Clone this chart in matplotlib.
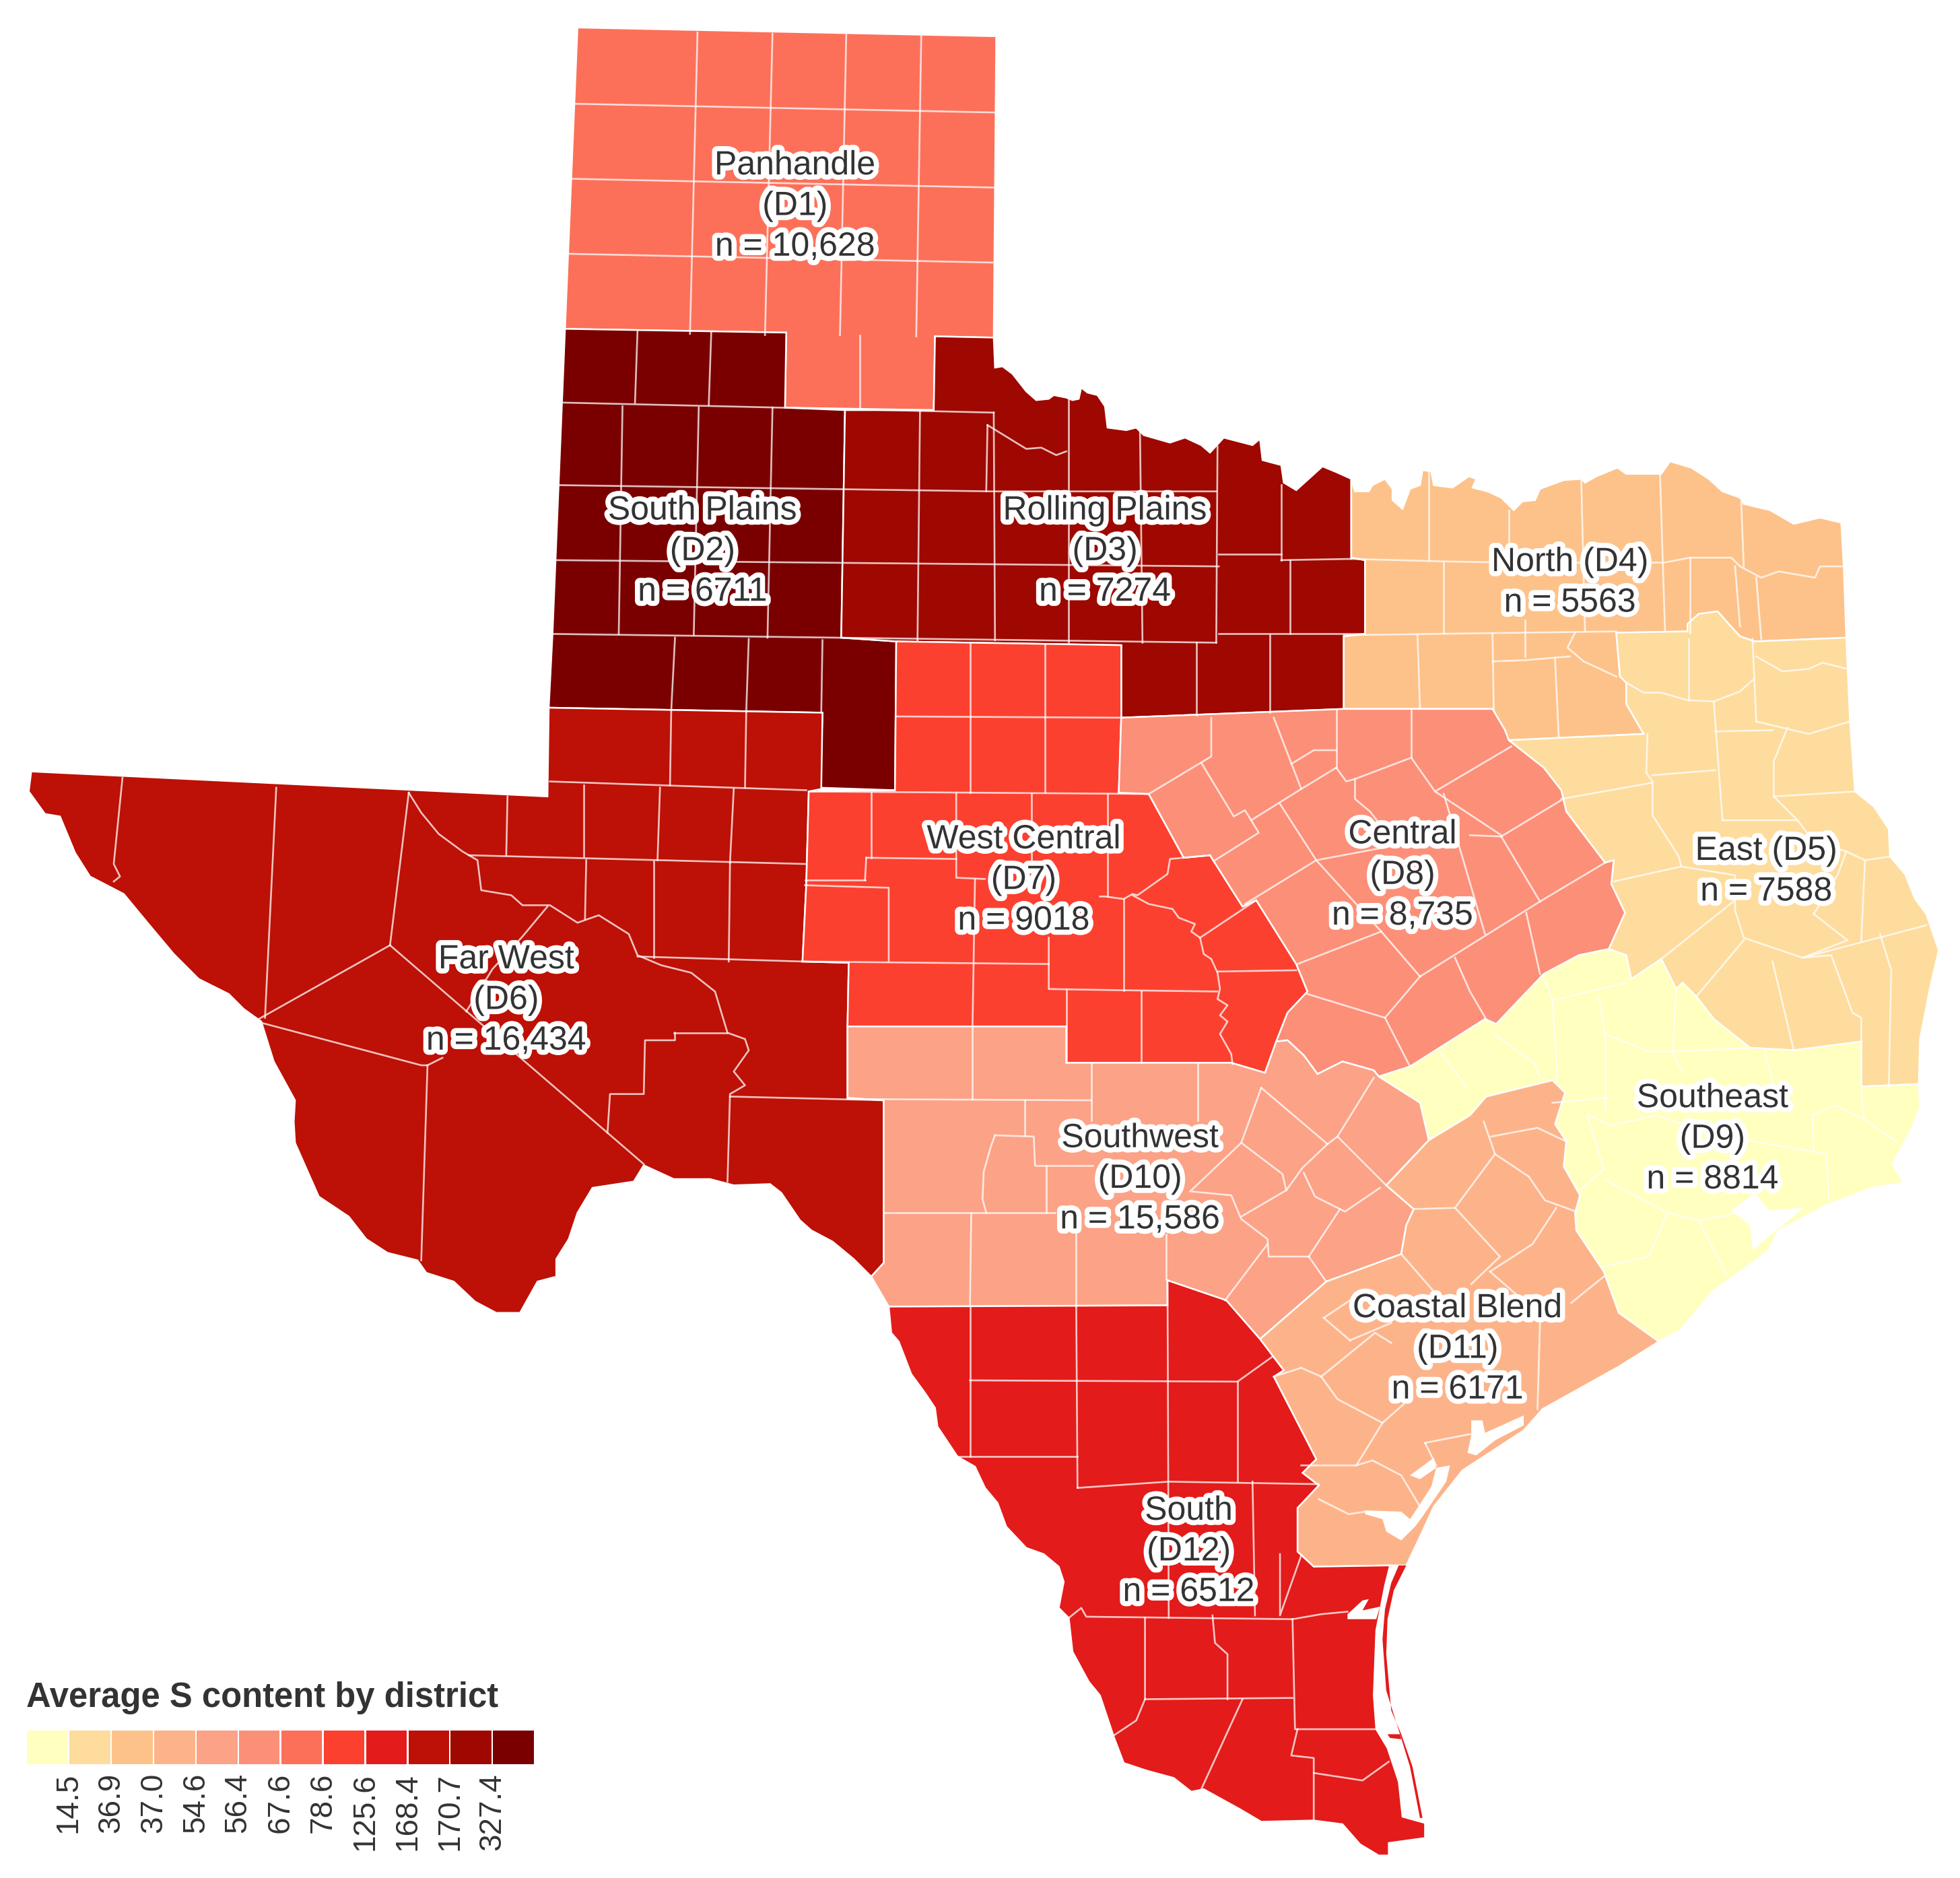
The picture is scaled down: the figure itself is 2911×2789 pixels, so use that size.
import matplotlib
matplotlib.use("Agg")
import matplotlib.pyplot as plt
import matplotlib.patheffects as pe
from matplotlib.patches import Polygon
from matplotlib.colors import ListedColormap

plt.rcParams['font.family'] = ['Liberation Sans', 'DejaVu Sans']

# ---- data -------------------------------------------------------------
legend_title = "Average S content by district"
legend_breaks = ["14.5", "36.9", "37.0", "54.6", "56.4", "67.6", "78.6", "125.6", "168.4", "170.7", "327.4"]
level_colors = ["#FFFFBF", "#FEDC9D", "#FDC28A", "#FDB389", "#FCA286", "#FC8F78",
                "#FC705A", "#FC402F", "#E31B1A", "#BD1006", "#9E0800", "#7A0000"]
district_ids = ["D1", "D2", "D3", "D4", "D5", "D6", "D7", "D8", "D9", "D10", "D11", "D12"]
district_level = [6, 11, 10, 2, 1, 9, 7, 5, 0, 4, 3, 8]
district_labels = [
    ["Panhandle", "(D1)", "n = 10,628"],
    ["South Plains", "(D2)", "n = 6711"],
    ["Rolling Plains", "(D3)", "n = 7274"],
    ["North (D4)", "n = 5563"],
    ["East (D5)", "n = 7588"],
    ["Far West", "(D6)", "n = 16,434"],
    ["West Central", "(D7)", "n = 9018"],
    ["Central", "(D8)", "n = 8,735"],
    ["Southeast", "(D9)", "n = 8814"],
    ["Southwest", "(D10)", "n = 15,586"],
    ["Coastal Blend", "(D11)", "n = 6171"],
    ["South", "(D12)", "n = 6512"],
]
label_x = [636, 562, 884, 1256, 1413, 405, 819, 1122, 1370, 912, 1166, 951]
label_y = [165, 441, 441, 466, 697, 800, 704, 700, 911, 943, 1079, 1241]

# ---- map geometry (shared borders, then district outlines) ---------------
red_river_d3 = [(796,294),(802,293),(810,299),(821,313),(829,320),(839,319),(843,316),(853,318),(858,320),(863,319),
    (865,310),(870,314),(878,316),(884,325),(886,342),(901,344),(909,342),(915,348),(936,354),(948,350),(961,356),
    (968,362),(979,350),(1002,356),(1008,351),(1010,368),(1025,372),(1027,386),(1037,392),(1058,373),(1070,378),(1081,383)]
red_river_d4 = [(1081,383),(1084,393),(1095,393),(1098,388),(1108,383),(1114,391),(1114,400),(1122,407),(1128,391),(1136,388),
    (1138,376),(1145,377),(1147,388),(1162,390),(1175,381),(1181,383),(1178,390),(1190,393),(1201,398),(1211,408),(1218,401),
    (1228,400),(1232,391),(1251,384),(1265,383),(1268,386),(1277,381),(1294,374),(1301,379),(1329,379),(1336,369),(1353,374),
    (1367,383),(1378,393),(1392,398),(1395,403),(1416,408),(1435,419),(1456,414),(1473,418),(1475,453),(1477,510)]
b_d4_d5 = [(1477,510),(1404,513),(1392,509),(1374,489),(1359,491),(1350,499),(1350,505),(1293,506),(1296,541),(1301,546),
    (1301,563),(1315,587),(1207,592)]
b_d5_d8 = [(1207,592),(1235,614),(1249,632),(1253,649),(1284,690),(1291,688),(1289,707),(1300,730),(1287,759)]
b_d5_d9 = [(1287,759),(1301,764),(1305,783),(1329,767),(1341,791),(1346,786),(1357,797),(1371,815),(1400,838),(1435,840),
    (1489,833),(1489,869),(1535,867)]
b_d8_d9 = [(1287,759),(1263,764),(1235,779),(1215,800),(1197,819),(1188,815),(1128,853),(1103,861)]
b_d8_d10 = [(1103,861),(1099,856),(1074,849),(1054,859),(1043,844),(1030,832),(1021,833)]
b_d7_d8 = [(897,574),(895,634),(919,635),(947,686),(968,684),(994,725),(1005,720),(1037,771),(1046,793),(1030,810),(1021,833),(1012,858)]
b_d10_d11 = [(1143,912),(1109,948),(1131,967),(1125,980),(1121,1003),(1061,1025),(1008,1071)]
rio_grande_d6 = [(697,1021),(683,1007),(666,993),(649,984),(640,976),(625,954),(616,947),(587,948),(568,943),(539,943),
    (515,932),(507,945),(474,950),(462,970),(455,991),(445,1007),(445,1021),(430,1025),(416,1050),(397,1050),(380,1041),
    (363,1025),(341,1018),(334,1008),(310,1002),(293,991),(279,973),(255,957),(236,914),(235,897),(236,880),(219,849),
    (209,817),(195,807),(183,795),(159,783),(139,763),(118,738),(99,715),(72,701),(60,682),(48,653),(36,651),(23,633),(25,617)]
coast_d9 = [(1535,867),(1536,886),(1529,903),(1514,931),(1523,946),(1497,950),(1461,964),(1423,984),(1414,1001),(1370,1033),
    (1344,1064),(1327,1073)]
d11_north = [(1143,912),(1176,892),(1189,877),(1242,864),(1252,874),(1244,899),(1253,913),(1251,933),(1264,956),(1260,970),
    (1261,984),(1283,1017),(1295,1050),(1327,1073)]
d11_south = [(1327,1073),(1295,1093),(1234,1127),(1219,1144),(1170,1176),(1147,1205),(1136,1229),(1125,1252),(1112,1252),
    (1051,1253),(1038,1241),(1038,1206),(1055,1188),(1042,1178),(1053,1167),(1019,1101),(1027,1096),(1008,1071)]
d12_coast = [(1112,1252),(1108,1268),(1101,1304),(1099,1356),(1101,1383),(1110,1398),(1119,1425),(1122,1453),(1140,1458),
    (1140,1470),(1111,1474),(1111,1484),(1103,1484),(1088,1475),(1074,1459),(1051,1456),(1009,1457),(992,1447),(963,1431),
    (953,1433),(939,1422),(917,1416),(899,1410),(891,1389),(880,1356),(871,1345),(858,1321),(855,1294),(847,1286),(851,1265),
    (847,1253),(835,1243),(821,1238),(805,1221),(798,1202),(788,1190),(780,1173),(766,1165),(750,1141),(748,1126),(740,1114),
    (729,1099),(719,1073),(713,1066),(711,1045)]

outlines = [
    [(462,22),(797,29),(795,270),(748,269),(747,328),(628,326),(629,266),(452,263)],
    [(452,263),(629,266),(628,326),(676,328),(673,510),(717,513),(716,632),(656,630),(658,570),(439,566),(442,507),(447,385)],
    [(748,269),(795,270)] + red_river_d3 + [(1081,446),(1092,448),(1092,507),(1075,509),(1075,567),(897,574),(897,516),(717,513),
        (673,510),(676,328),(747,328)],
    red_river_d4 + b_d4_d5[1:] + [(1204,584),(1194,567),(1075,567),(1075,509),(1092,507),(1092,448),(1081,446)],
    b_d4_d5 + b_d5_d8[1:] + b_d5_d9[1:] + [(1536,831),(1544,790),(1551,760),(1541,731),(1532,719),(1524,699),(1512,685),
        (1511,663),(1499,645),(1484,633),(1480,577)],
    [(25,617),(438,637),(439,566),(658,570),(657,631),(647,633),(645,708),(642,769),(679,770),(678,821),(678,878),(707,880),
        (707,1010)] + rio_grande_d6,
    [(717,513),(897,516)] + b_d7_d8 + [(985,850),(853,850),(853,821),(678,821),(679,770),(642,769),(645,708),(647,633),(716,632)],
    [(897,574),(1075,567),(1194,567),(1204,584),(1207,592)] + b_d5_d8[1:] + b_d8_d9[1:] + b_d8_d10[1:] + b_d7_d8[-3::-1],
    b_d8_d9[::-1] + b_d5_d9[1:] + coast_d9[1:] + d11_north[-2::-1] + [(1136,882)],
    [(678,821),(853,821),(853,850),(985,850),(1012,858),(1021,833)] + b_d8_d10[-2::-1] + [(1136,882)] + b_d10_d11 +
        [(981,1040),(934,1024),(934,1044),(711,1045),(697,1021),(707,1010),(707,880),(678,878)],
    d11_north + d11_south[1:] + b_d10_d11[-2::-1],
    [(711,1045),(934,1044),(934,1024),(981,1040),(1008,1071),(1027,1096),(1019,1101),(1053,1167),(1042,1178),(1055,1188),
        (1038,1206),(1038,1241),(1051,1253)] + d12_coast,
]
padre_island = [(1125,1252),(1115,1272),(1110,1295),(1109,1323),(1113,1368),(1121,1387),(1130,1413),(1138,1454),(1136,1454),
    (1128,1413),(1120,1387),(1109,1352),(1106,1311),(1108,1287),(1113,1266),(1119,1252)]
mansfield_spit = [(1110,1387),(1120,1387),(1121,1391),(1112,1390)]
bays = [
    [(1177,1136),(1186,1136),(1188,1146),(1219,1132),(1219,1140),(1196,1152),(1181,1164),(1174,1162),(1177,1148)],
    [(1128,1180),(1147,1166),(1149,1174),(1136,1183)],
    [(1149,1174),(1160,1172),(1157,1185),(1138,1213),(1132,1221),(1121,1232),(1109,1225),(1106,1215),(1092,1211),(1092,1208),
     (1121,1209),(1128,1215),(1136,1203),(1145,1189)],
    [(1385,968),(1404,954),(1415,968),(1443,966),(1420,985),(1402,1000),(1400,980)],
    [(1078,1291),(1090,1280),(1095,1279),(1090,1288),(1104,1285),(1101,1295),(1078,1295)],
]

county_lines = [
    # Panhandle
    [(558,26),(552,267)],[(618,27),(612,268)],[(677,28),(672,268)],[(737,29),(733,269)],
    [(460,83),(797,90)],[(457,143),(796,150)],[(455,203),(795,210)],[(688,268),(688,327)],
    # South Plains / Rolling Plains
    [(510,265),(508,322)],[(569,266),(567,324)],[(451,322),(795,330)],
    [(498,325),(495,507)],[(559,326),(555,508)],[(618,326),(614,510)],[(736,329),(734,512)],[(795,330),(796,512)],
    [(447,388),(794,393),(973,393)],[(445,448),(975,453)],[(442,507),(973,514)],
    [(790,340),(789,393)],[(790,340),(821,359),(833,358),(845,364),(853,361)],
    [(855,318),(855,514)],[(912,345),(914,514)],[(974,357),(973,514)],[(1025,388),(1025,448)],[(975,443),(1025,443)],
    [(1025,448),(1081,447)],[(1032,448),(1032,507)],[(975,507),(1092,507)],[(957,514),(957,572)],[(1016,508),(1016,570)],
    [(540,510),(537,568)],[(599,511),(597,569)],[(658,512),(657,570)],
    # West Central
    [(776,514),(776,634)],[(836,515),(836,634)],[(717,573),(897,574)],[(647,633),(919,635)],
    [(697,634),(697,686)],[(693,686),(765,687)],[(692,704),(693,686)],[(644,704),(692,704)],[(644,708),(711,710),(711,769)],
    [(765,635),(765,702),(788,703)],[(825,635),(825,690)],[(886,635),(886,717)],[(780,703),(778,821)],
    [(642,769),(839,771)],[(839,750),(839,791),(898,792),(974,793)],[(899,719),(899,792)],
    [(853,791),(853,850)],[(913,793),(913,850)],
    [(880,717),(884,717),(899,719),(906,715),(910,716),(934,699),(936,687),(968,684)],
    [(906,716),(919,723),(938,727),(943,734),(956,739),(953,745),(960,750),(963,763),(969,767),(974,778),(976,791),
     (974,799),(982,804),(976,812),(982,817),(976,827),(985,843),(986,851)],
    [(960,750),(1005,720)],[(974,777),(1037,776)],
    # Far West
    [(537,568),(536,628)],[(597,569),(596,630)],[(440,625),(645,632)],[(406,637),(405,684)],[(467,628),(467,685)],
    [(528,630),(526,688)],[(587,631),(584,690)],[(375,684),(645,691)],[(469,688),(468,735)],[(523,689),(523,766)],[(584,690),(583,769)],
    [(327,634),(337,650),(351,667),(370,681),(382,688),(385,712),(409,716),(418,724),(440,724),(462,738),(479,732),(503,747),
     (510,764),(529,772),(553,778),(572,793),(582,826),(596,831),(599,840),(587,857),(596,868),(584,875),(582,945)],
    [(510,765),(642,769)],[(584,877),(707,880)],[(539,826),(582,826)],[(540,826),(540,832),(516,832),(515,875),(488,875),(486,906)],
    [(438,725),(418,749),(394,775),(373,809)],[(312,756),(207,815)],[(312,756),(515,931)],[(327,634),(312,756)],
    [(221,630),(212,814)],[(98,622),(91,691),(96,701),(91,705)],[(209,818),(337,852),(342,852),(354,846)],[(342,852),(337,1008)],
    # Central
    [(1069,568),(1069,614)],[(1129,568),(1129,606)],[(969,574),(969,605),(919,635)],[(961,610),(987,653),(996,648),(1007,666),(972,688)],
    [(1001,656),(1041,631),(1069,614)],[(1019,574),(1041,631)],[(1033,611),(1051,600),(1069,600)],
    [(1069,614),(1077,625),(1084,623),(1129,606),(1148,633),(1209,597)],
    [(1084,623),(1084,639),(1096,649),(1117,676)],[(1024,643),(1053,688),(1105,745),(1136,781)],
    [(996,723),(1053,688)],[(1038,771),(1105,745)],[(1053,688),(1117,676)],[(1148,633),(1201,668)],[(1176,668),(1201,669)],
    [(1201,669),(1249,640)],[(1201,669),(1232,721)],[(1232,721),(1284,690)],[(1136,781),(1232,721)],
    [(1046,795),(1108,814)],[(1108,814),(1136,781)],[(1108,814),(1128,853)],[(1164,766),(1176,793),(1190,817)],
    [(1221,730),(1232,779)],[(1155,635),(1188,747)],
    # North
    [(1143,377),(1143,448)],[(1207,408),(1207,450)],[(1265,384),(1268,505)],[(1328,379),(1332,505)],[(1393,402),(1395,453)],
    [(1081,447),(1155,449),(1207,450),(1318,450),(1331,450),(1352,446),(1385,446),(1392,453),(1409,462),(1423,457),(1452,462),(1456,453),(1475,453)],
    [(1155,450),(1155,506)],[(1075,508),(1218,506),(1293,505)],[(1134,508),(1136,567)],[(1194,507),(1195,567)],
    [(1220,496),(1220,525)],[(1194,529),(1220,528),(1256,525)],[(1260,506),(1254,518),(1267,529),(1293,541)],[(1244,526),(1247,590)],
    [(1352,446),(1352,506)],[(1405,462),(1409,511)],[(1388,453),(1392,501)],
    # East
    [(1351,511),(1351,560)],[(1402,511),(1405,577)],[(1405,525),(1426,537),(1447,535),(1458,530),(1478,535)],
    [(1301,546),(1315,554),(1329,554),(1350,560),(1371,561),(1392,553),(1402,544)],[(1371,561),(1378,656)],[(1372,585),(1418,584)],
    [(1405,577),(1447,587),(1480,577)],[(1430,582),(1419,609),(1419,637),(1484,633)],[(1419,637),(1438,656),(1378,656)],[(1438,656),(1451,673),(1477,681),(1492,688),(1512,685)],
    [(1318,587),(1317,618),(1322,625),(1322,652),(1343,685),(1345,693)],[(1322,620),(1372,616)],[(1322,626),(1249,639)],
    [(1291,705),(1345,693),(1388,700),(1388,728),(1395,750),(1442,766),(1478,752),(1451,731)],[(1388,720),(1329,767)],
    [(1395,752),(1357,797)],[(1418,769),(1435,840)],[(1442,766),(1465,764),(1482,810),(1489,814),(1489,833)],[(1442,766),(1541,740)],
    [(1504,747),(1513,776),(1511,869)],[(1489,752),(1492,688)],[(1451,731),(1470,700),(1477,681)],
    # Southeast
    [(1235,783),(1242,800),(1246,865)],[(1242,800),(1301,786)],[(1279,797),(1284,827)],[(1284,827),(1319,841),(1338,841),(1400,838)],
    [(1341,791),(1338,841),(1346,858)],[(1412,841),(1421,876)],[(1194,826),(1228,851),(1232,862)],[(1152,841),(1173,869)],[(1284,827),(1284,889)],
    [(1242,882),(1287,878)],[(1270,892),(1283,935),(1264,952)],[(1270,892),(1289,900),(1325,892),(1370,907),(1461,923),(1463,960)],
    [(1285,944),(1334,970),(1319,1005),(1283,1013)],[(1334,970),(1359,976),(1381,1019)],[(1359,976),(1381,972),(1393,968)],
    [(1450,892),(1451,921)],[(1450,892),(1468,884),(1491,895),(1517,913)],[(1489,870),(1491,895)],
    # Southwest
    [(778,821),(778,879)],[(678,879),(873,880)],[(873,851),(873,896)],[(829,932),(874,932)],[(958,851),(958,896)],
    [(820,880),(820,908)],[(796,908),(827,909),(828,932)],[(796,908),(793,916),(787,937),(786,959),(789,970)],
    [(837,932),(837,970)],[(708,970),(844,970)],[(777,970),(776,1044)],[(861,987),(861,1044)],[(933,987),(933,1023)],
    [(1009,870),(993,914),(952,953)],[(1009,870),(1062,915),(1070,909),(1099,862)],[(1070,909),(1109,948)],
    [(993,914),(1026,939),(1029,952)],[(1062,915),(1042,934),(1029,952),(993,973)],
    [(954,953),(985,956),(993,975),(1014,991),(1015,1005),(1047,1005)],
    [(1043,938),(1052,957),(1076,969),(1104,950)],[(1072,967),(1047,1005)],[(1014,995),(980,1040)],[(1047,1005),(1061,1025)],
    # Coastal Blend
    [(1131,967),(1164,966),(1196,923),(1187,897)],[(1196,923),(1223,941),(1236,960),(1261,969)],[(1193,909),(1230,902),(1253,913)],
    [(1164,966),(1200,1005),(1177,1027)],[(1192,1017),(1226,995),(1245,966)],[(1192,1017),(1215,1037)],[(1283,1021),(1257,1042)],
    [(1232,1058),(1230,1127)],[(1121,1003),(1155,1042)],[(1059,1054),(1080,1072)],[(1059,1054),(1080,1040)],[(1080,1072),(1113,1058)],
    [(1057,1101),(1100,1066),(1113,1074)],[(1057,1101),(1070,1119),(1106,1138)],[(1041,1094),(1019,1101)],[(1057,1101),(1041,1094)],
    [(1123,1123),(1106,1138),(1085,1172),(1041,1172)],[(1085,1172),(1098,1168),(1121,1180),(1136,1205)],[(1055,1199),(1079,1211),(1092,1209)],
    [(1140,1154),(1176,1147)],[(1140,1154),(1149,1172)],
    # South
    [(776,1045),(776,1165)],[(861,1045),(862,1190)],[(934,1024),(935,1294)],[(776,1104),(990,1105),(1018,1085)],[(990,1105),(990,1185)],
    [(766,1165),(862,1165)],[(862,1190),(935,1185),(1055,1187)],[(1002,1185),(1004,1292)],[(1024,1243),(1024,1292),(1041,1244)],
    [(855,1294),(865,1286),(869,1293),(1034,1295)],[(916,1294),(916,1359),(909,1376),(891,1388)],
    [(970,1292),(972,1314),(982,1323),(982,1359)],[(916,1359),(1034,1358)],[(994,1359),(961,1431)],
    [(1034,1295),(1036,1383),(1100,1383)],[(1034,1295),(1057,1291),(1078,1289)],
    [(1038,1383),(1033,1404),(1051,1406),(1051,1456)],[(1051,1418),(1090,1424),(1111,1409)],
]

# ---- drawing --------------------------------------------------------------
cmap = ListedColormap(level_colors)
fig = plt.figure(figsize=(29.11, 27.89), dpi=100)
ax = fig.add_axes([0, 0, 1, 1])
ax.set_xlim(0, 1568)
ax.set_ylim(1502, 0)
ax.axis("off")

for pts, level in zip(outlines, district_level):
    ax.add_patch(Polygon(pts, closed=True, facecolor=cmap(level), edgecolor="white", linewidth=1.8, zorder=1))
ax.add_patch(Polygon(padre_island, closed=True, facecolor=cmap(district_level[11]), edgecolor="none", zorder=2))
ax.add_patch(Polygon(mansfield_spit, closed=True, facecolor=cmap(district_level[11]), edgecolor="none", zorder=2))
for b in bays:
    ax.add_patch(Polygon(b, closed=True, facecolor="white", edgecolor="none", zorder=2))
for line in county_lines:
    xs, ys = zip(*line)
    ax.plot(xs, ys, color="white", lw=1.9, alpha=0.75, solid_joinstyle="round", zorder=3)

halo = [pe.withStroke(linewidth=11, foreground="white")]
line_gap = 32.5
for lines, cx, cy in zip(district_labels, label_x, label_y):
    n = len(lines)
    for i, s in enumerate(lines):
        ax.text(cx, cy + (i - (n - 1) / 2) * line_gap, s, ha="center", va="center", fontsize=36,
                color="#333333", path_effects=halo, zorder=5)

# legend
n_swatch = len(level_colors)
sw_left, sw_w, sw_top, sw_h = 21, 33.9, 1384, 27
ax.bar([sw_left + sw_w * (i + 0.5) for i in range(n_swatch)], [sw_h] * n_swatch, width=sw_w - 1.2,
       bottom=sw_top, color=level_colors, linewidth=0, zorder=4)
ax.text(21, 1358, legend_title, ha="left", va="center", fontsize=36.5, fontweight="bold", color="#333333", zorder=5)
for i, s in enumerate(legend_breaks):
    ax.text(sw_left + sw_w * (i + 1), 1418, s, rotation=90, ha="center", va="top", fontsize=33, color="#333333", zorder=5)

fig.savefig("out.png", dpi=100, facecolor="white")
